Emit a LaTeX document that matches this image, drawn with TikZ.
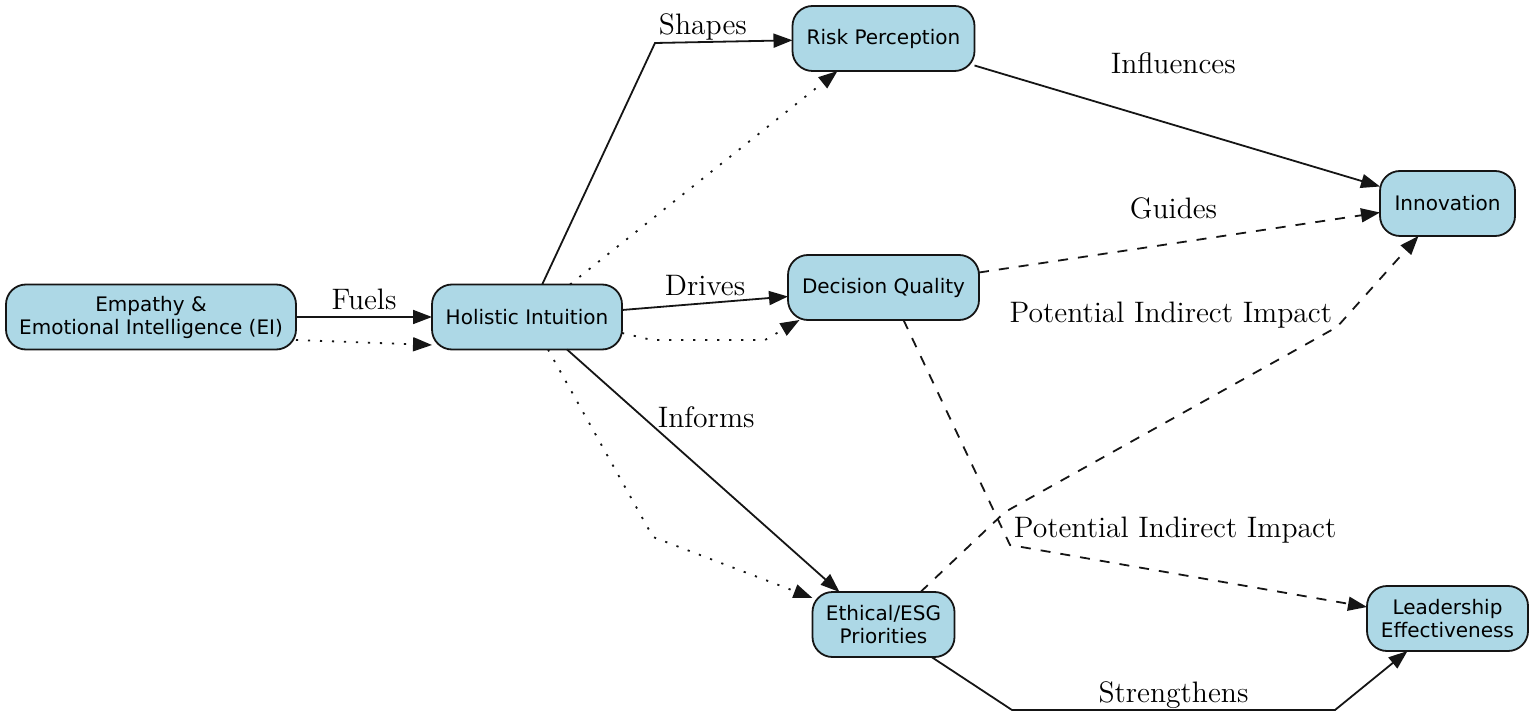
\documentclass[tikz,border=0pt]{standalone}
\usepackage{fontspec}
\usepackage{xcolor}
\usepackage{tikz}
\usetikzlibrary{arrows.meta, positioning}
\newfontfamily\boxfont{DejaVu Sans}
\definecolor{boxblue}{HTML}{ADD8E6}
\definecolor{edgegray}{HTML}{151515}

\begin{document}
\begin{tikzpicture}[
    x=0.5pt, y=-0.5pt,
    box/.style     = {draw=edgegray, line width=0.9pt, fill=boxblue, rounded corners=10pt,
                      minimum height=32.5pt, align=center, inner xsep=4pt, outer sep=0pt,
                      font=\boxfont\fontsize{10}{11.5}\selectfont},
    lbl/.style     = {inner sep=1pt, font=\fontsize{14.8}{17}\selectfont},
    arr/.style     = {-{Triangle[length=9.5pt,width=7pt]}, line width=0.9pt, draw=edgegray},
    dasharr/.style = {arr, dash pattern=on 5pt off 5pt},
    dotarr/.style  = {arr, dash pattern=on 1.1pt off 4.9pt},
  ]
  \useasboundingbox (0,0) rectangle (1535,716);

  %% Source and intuition
  \node[box, minimum width=145pt] (ei) at (151,317) {Empathy \&\\Emotional Intelligence (EI)};
  \node[box, minimum width=95pt, right=68pt of ei] (hi) {Holistic Intuition};

  %% Middle column
  \node[box, minimum width=95.5pt, right=83pt of hi, yshift=14.75pt] (dq) {Decision Quality};
  \node[box, minimum width=91pt, above=92pt of dq] (rp) {Risk Perception};
  \node[box, minimum width=71pt, below=136pt of dq] (esg) {Ethical/ESG\\Priorities};

  %% Outcomes
  \node[box, minimum width=67.5pt, right=200.5pt of dq, yshift=42pt] (inn) {Innovation};
  \node[box, minimum width=80.5pt, below=175pt of inn] (le) {Leadership\\Effectiveness};

  %% EI -> intuition
  \draw[arr] (ei) -- node[lbl, anchor=base, yshift=3.5pt] {Fuels} (hi);
  \draw[dotarr] ([yshift=-11.5pt]ei.east) -- ([yshift=-14pt]hi.west);

  %% Intuition -> middle column
  \draw[arr] (hi) -- (655,43) node[lbl, anchor=base west, xshift=0.5pt, yshift=4pt] {Shapes} -- (rp);
  \draw[dotarr] ([xshift=21.5pt]hi.north) -- ([xshift=-23pt]rp.south);

  \draw[arr] ([yshift=3.5pt]hi.east) -- node[lbl, anchor=base, yshift=4pt] {Drives} ([yshift=-4.5pt]dq.west);
  \draw[dotarr] ([yshift=-8pt]hi.east) -- (652,340) -- (765,340) -- ([xshift=-42pt]dq.south);

  \draw[arr] ([xshift=20pt]hi.south) -- node[lbl, pos=0.33, anchor=base west, xshift=-1pt, yshift=1pt] {Informs} ([xshift=-22pt]esg.north);
  \draw[dotarr] ([xshift=10.5pt]hi.south) -- (653,537) -- ([yshift=-3pt]esg.north west);

  %% Middle column -> outcomes
  \draw[arr] ([yshift=-13.5pt]rp.east) -- node[lbl, anchor=base, xshift=-2pt, yshift=26pt] {Influences} ([yshift=8.5pt]inn.west);
  \draw[dasharr] ([yshift=7.5pt]dq.east) -- node[lbl, anchor=base, xshift=-3pt, yshift=11.75pt] {Guides} ([yshift=-4.5pt]inn.west);

  \draw[dasharr] ([xshift=10pt]dq.south) -- (1010,545)
    node[lbl, anchor=base west, xshift=0.5pt, yshift=4pt] {Potential Indirect Impact} -- ([yshift=5.75pt]le.west);
  \draw[dasharr] ([xshift=18.5pt]esg.north) -- (1005,512) -- (1337,327)
    node[lbl, anchor=base east, xshift=-1pt, yshift=2.5pt] {Potential Indirect Impact} -- ([xshift=-14.5pt]inn.south);

  \draw[arr] ([xshift=24pt]esg.south) -- (1012,710) -- node[lbl, anchor=base, yshift=4pt] {Strengthens} (1335,710) -- ([xshift=-20pt]le.south);

\end{tikzpicture}
\end{document}
